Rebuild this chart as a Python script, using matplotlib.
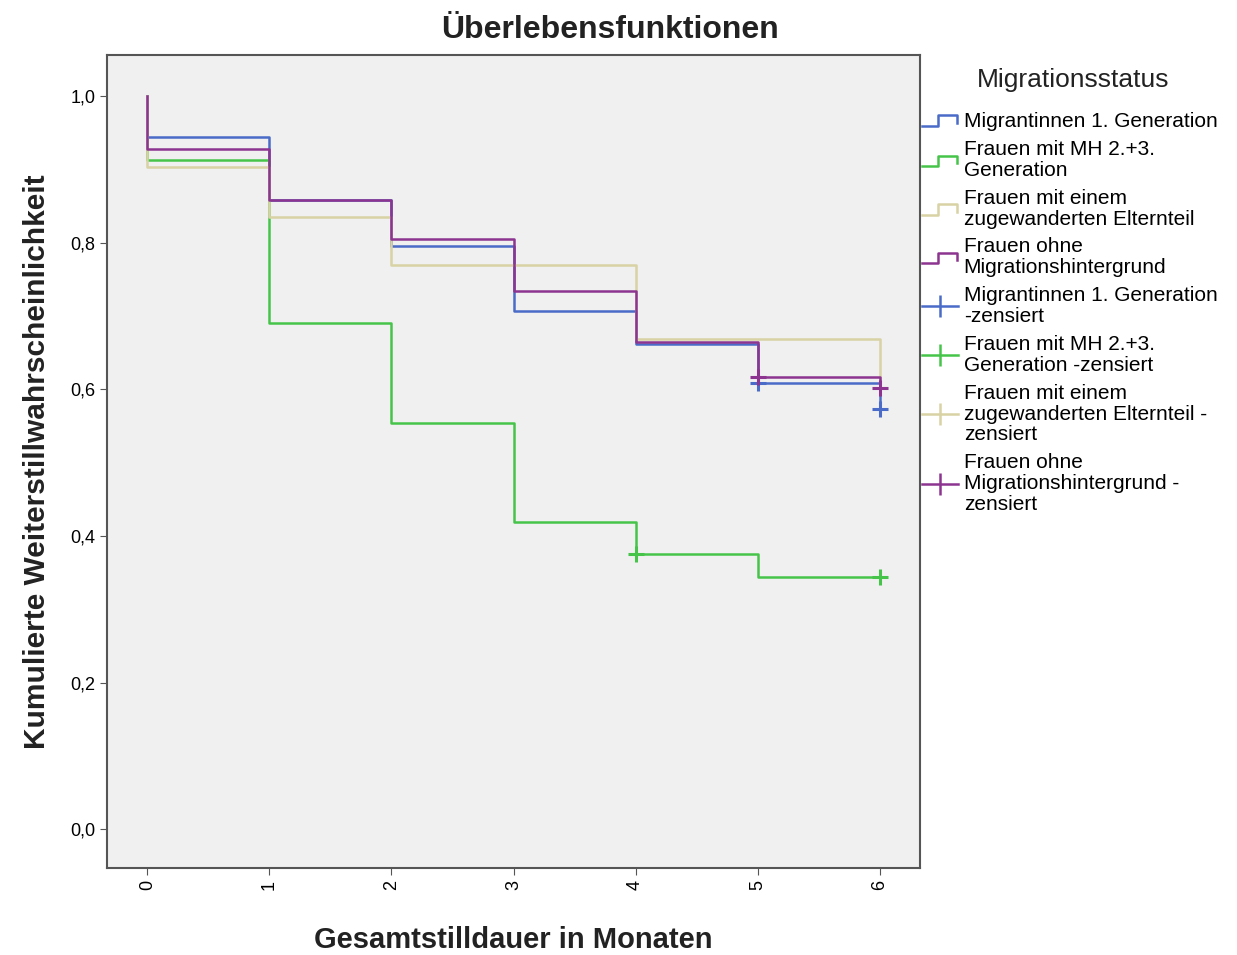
import numpy as np
import matplotlib
matplotlib.use("Agg")
import matplotlib.pyplot as plt
from matplotlib.legend_handler import HandlerBase
from matplotlib.lines import Line2D
from matplotlib.ticker import FuncFormatter

plt.rcParams['font.family'] = ['Liberation Sans', 'DejaVu Sans']

# Kaplan-Meier step values (months 0..6), first value is the start at 1.0
months = [0, 0, 1, 2, 3, 4, 5, 6]
gen1 = [1.0, 0.944, 0.858, 0.795, 0.707, 0.662, 0.609, 0.573]
mh23 = [1.0, 0.913, 0.690, 0.554, 0.419, 0.375, 0.344, 0.344]
eltern = [1.0, 0.903, 0.835, 0.770, 0.770, 0.669, 0.669, 0.615]
ohne = [1.0, 0.928, 0.858, 0.805, 0.734, 0.665, 0.617, 0.602]

# censored observations
cens_gen1 = ([5, 6], [0.609, 0.573])
cens_mh23 = ([4, 6], [0.375, 0.344])
cens_ohne = ([5, 6], [0.617, 0.602])

names = ["Migrantinnen 1. Generation",
         "Frauen mit MH 2.+3.\nGeneration",
         "Frauen mit einem\nzugewanderten Elternteil",
         "Frauen ohne\nMigrationshintergrund"]
cens_names = ["Migrantinnen 1. Generation\n-zensiert",
              "Frauen mit MH 2.+3.\nGeneration -zensiert",
              "Frauen mit einem\nzugewanderten Elternteil -\nzensiert",
              "Frauen ohne\nMigrationshintergrund -\nzensiert"]
colors = ["#4a6cc8", "#46c44a", "#d8d2a4", "#8c3490"]


class StepHandler(HandlerBase):
    def create_artists(self, legend, orig_handle, xdescent, ydescent,
                       width, height, fontsize, trans):
        x0, y0 = -xdescent, -ydescent
        xs = [x0, x0 + width * 0.45, x0 + width * 0.45, x0 + width * 0.95, x0 + width * 0.95]
        ys = [y0 + height * 0.1, y0 + height * 0.1, y0 + height * 0.8,
              y0 + height * 0.8, y0 + height * 0.3]
        ln = Line2D(xs, ys, color=orig_handle.get_color(), lw=1.8, transform=trans)
        return [ln]


fig = plt.figure(figsize=(12.37, 9.55), dpi=100)
ax = fig.add_axes([107 / 1237, 1 - 868 / 955, (920 - 107) / 1237, (868 - 55) / 955])
ax.set_facecolor("#f0f0f0")

step_lines = []
for ys, c in zip([gen1, mh23, eltern, ohne], colors):
    ln, = ax.plot(months, ys, drawstyle="steps-post", color=c, lw=1.8)
    step_lines.append(ln)

ax.plot(*cens_gen1, linestyle="none", marker="+", color=colors[0], ms=12, mew=2.2)
ax.plot(*cens_mh23, linestyle="none", marker="+", color=colors[1], ms=12, mew=2.2)
ax.plot(*cens_ohne, linestyle="none", marker="+", color=colors[3], ms=12, mew=2.2)

ax.set_xlim(-0.33, 6.33)
ax.set_ylim(-0.053, 1.056)
ax.set_xticks(range(7))
ax.set_xticklabels([str(i) for i in range(7)], rotation=90, fontsize=13)
ax.set_yticks(np.arange(0, 1.01, 0.2))
ax.yaxis.set_major_formatter(FuncFormatter(lambda v, p: f"{v:.1f}".replace(".", ",")))
ax.tick_params(axis="y", labelsize=13)
ax.tick_params(length=5, color="#555555")
for sp in ax.spines.values():
    sp.set_color("#555555")
    sp.set_linewidth(1.5)

fig.text(610 / 1237, 1 - 30 / 955, "Überlebensfunktionen", fontsize=23, fontweight="bold",
         ha="center", va="center", color="#222222")
ax.set_xlabel("Gesamtstilldauer in Monaten", fontsize=21, fontweight="bold", labelpad=26, color="#222222")
ax.set_ylabel("Kumulierte Weiterstillwahrscheinlichkeit", fontsize=21.5, fontweight="bold", labelpad=14, color="#222222")

fig.text(1073 / 1237, 1 - 80 / 955, "Migrationsstatus", fontsize=19, ha="center", va="center", color="#222222")

cens_handles = [Line2D([], [], color=c, lw=1.8, marker="|", ms=16, mew=1.8) for c in colors]
handles = step_lines + cens_handles
labels = names + cens_names
hmap = {ln: StepHandler() for ln in step_lines}
leg = fig.legend(handles, labels, handler_map=hmap, loc="upper left",
                 bbox_to_anchor=(922 / 1237, 1 - 112 / 955), frameon=False,
                 fontsize=15, handlelength=1.75, handletextpad=0.25, labelspacing=0.43,
                 borderaxespad=0, borderpad=0)
for t in leg.get_texts():
    t.set_linespacing(1.12)

fig.savefig("out.png", dpi=100, facecolor="white")
